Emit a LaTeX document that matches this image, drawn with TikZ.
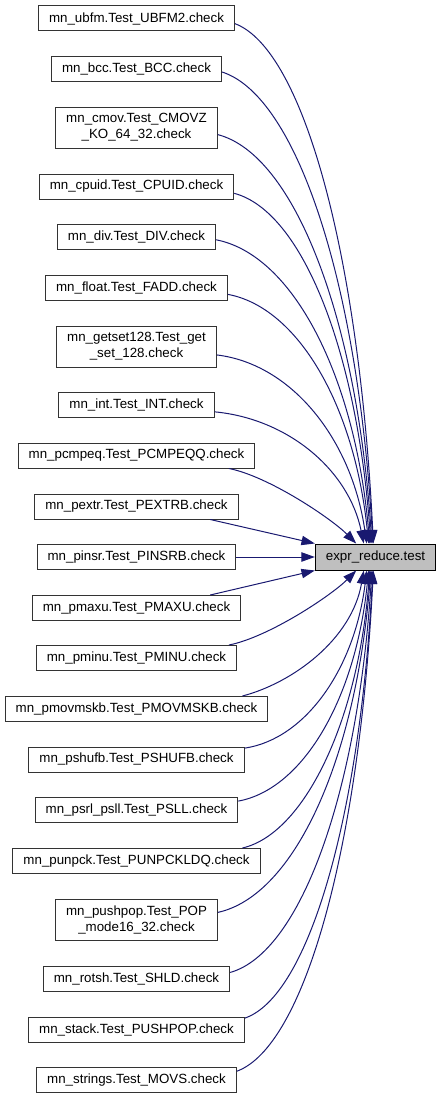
\documentclass[tikz,border=0pt]{standalone}
\usepackage{fontspec}
\setmainfont{Liberation Sans}
\definecolor{edgeblue}{HTML}{191970}
\definecolor{testgray}{HTML}{BFBFBF}
\usetikzlibrary{arrows.meta}
\tikzset{
	checkbox/.style={draw=black!80, fill=white, line width=0.75pt, font=\fontsize{10}{12}\selectfont, align=center, inner xsep=7.9pt, inner ysep=0pt, minimum height=18.75pt}
}
\tikzset{
	twolinebox/.style={checkbox, minimum height=30.75pt}
}
\tikzset{
	testbox/.style={checkbox, draw=black, fill=testgray, minimum height=19.5pt}
}
\tikzset{
	calledge/.style={draw=edgeblue, line width=0.75pt, -{Triangle[length=10pt, width=7pt]}}
}
\begin{document}
\begin{tikzpicture}[x=0.75pt, y=0.75pt]
\useasboundingbox (0,0) rectangle (440,-1099);

\node[checkbox] (ubfm) at (136.5,-18.5) {mn\_ubfm.Test\_UBFM2.check};
\node[checkbox] (bcc) at (136.5,-69) {mn\_bcc.Test\_BCC.check};
\node[twolinebox] (cmov) at (136.5,-127.5) {mn\_cmov.Test\_CMOVZ\\\_KO\_64\_32.check};
\node[checkbox] (cpuid) at (136.5,-186.5) {mn\_cpuid.Test\_CPUID.check};
\node[checkbox] (div) at (136.5,-237) {mn\_div.Test\_DIV.check};
\node[checkbox] (float) at (136.5,-288) {mn\_float.Test\_FADD.check};
\node[twolinebox] (getset) at (136.5,-346.5) {mn\_getset128.Test\_get\\\_set\_128.check};
\node[checkbox] (int) at (136.5,-405) {mn\_int.Test\_INT.check};
\node[checkbox] (pcmpeq) at (136.5,-455.5) {mn\_pcmpeq.Test\_PCMPEQQ.check};
\node[checkbox] (pextr) at (136.5,-506.5) {mn\_pextr.Test\_PEXTRB.check};
\node[checkbox] (pinsr) at (136.5,-557) {mn\_pinsr.Test\_PINSRB.check};
\node[checkbox] (pmaxu) at (136.5,-608) {mn\_pmaxu.Test\_PMAXU.check};
\node[checkbox] (pminu) at (136.5,-658) {mn\_pminu.Test\_PMINU.check};
\node[checkbox] (pmovmskb) at (136.5,-709) {mn\_pmovmskb.Test\_PMOVMSKB.check};
\node[checkbox] (pshufb) at (136.5,-759.5) {mn\_pshufb.Test\_PSHUFB.check};
\node[checkbox] (psrl) at (136.5,-810) {mn\_psrl\_psll.Test\_PSLL.check};
\node[checkbox] (punpck) at (136.5,-861) {mn\_punpck.Test\_PUNPCKLDQ.check};
\node[twolinebox] (pushpop) at (136.5,-919.5) {mn\_pushpop.Test\_POP\\\_mode16\_32.check};
\node[checkbox] (rotsh) at (136.5,-979) {mn\_rotsh.Test\_SHLD.check};
\node[checkbox] (stack) at (136.5,-1029.5) {mn\_stack.Test\_PUSHPOP.check};
\node[checkbox] (strings) at (136.5,-1080) {mn\_strings.Test\_MOVS.check};

\node[testbox] (expr) at (375.5,-557) {expr\_reduce.test};

\draw[calledge] (ubfm.-3) .. controls +(69,-26) and +(-14,286) .. (expr.99);
\draw[calledge] (bcc.-2) .. controls +(75,-24) and +(-15,260) .. (expr.101);
\draw[calledge] (cmov.-5) .. controls +(77,-20) and +(-15,225) .. (expr.105);
\draw[calledge] (cpuid.-4) .. controls +(68,-18) and +(-14,193) .. (expr.109);
\draw[calledge] (div.-2) .. controls +(77,-15) and +(-15,168) .. (expr.113);
\draw[calledge] (float.-4) .. controls +(70,-13) and +(-14,138) .. (expr.117);
\draw[calledge] (getset.-6) .. controls +(75,-9) and +(-15,104) .. (expr.123);
\draw[calledge] (int.-5) .. controls +(74,-7) and +(-15,73) .. (expr.131);
\draw[calledge] (pcmpeq.-8) .. controls +(40,-8) and +(-25,25) .. (expr.145);
\draw[calledge] (pextr.-10) -- (expr.north west);
\draw[calledge] (pinsr.east) -- (expr.west);
\draw[calledge] (pmaxu.10) -- (expr.south west);
\draw[calledge] (pminu.8) .. controls +(40,8) and +(-25,-25) .. (expr.215);
\draw[calledge] (pmovmskb.7) .. controls +(50,13) and +(-12,-69) .. (expr.229);
\draw[calledge] (pshufb.6) .. controls +(61,9) and +(-12,-98) .. (expr.237);
\draw[calledge] (psrl.5) .. controls +(65,12) and +(-13,-128) .. (expr.243);
\draw[calledge] (punpck.7) .. controls +(61,14) and +(-12,-153) .. (expr.247);
\draw[calledge] (pushpop.5) .. controls +(77,17) and +(-15,-188) .. (expr.251);
\draw[calledge] (rotsh.4) .. controls +(71,20) and +(-14,-221) .. (expr.255);
\draw[calledge] (stack.6) .. controls +(64,22) and +(-13,-246) .. (expr.259);
\draw[calledge] (strings.5) .. controls +(68,25) and +(-14,-276) .. (expr.261);

\end{tikzpicture}
\end{document}
